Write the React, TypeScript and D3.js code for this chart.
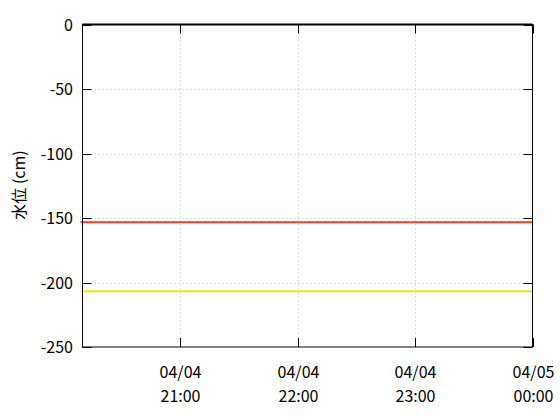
import React from "react";
import * as d3 from "d3";

const yTicks = [0, -50, -100, -150, -200, -250];
const xTickTimes = ["2024-04-04T21:00", "2024-04-04T22:00", "2024-04-04T23:00", "2024-04-05T00:00"];
const xDomain = ["2024-04-04T20:10", "2024-04-05T00:00"];
const redTimes = ["2024-04-04T20:09", "2024-04-05T00:00"];
const redValues = [-153.2, -153.2];
const yellowTimes = ["2024-04-04T20:09", "2024-04-05T00:00"];
const yellowValues = [-206.7, -206.7];

const W = 560, H = 420;
const M = { left: 82.5, right: 532.5, top: 24.5, bottom: 347 };
const FONT = "'Noto Sans CJK JP', 'Noto Sans', sans-serif";
const FS = 16;

export default function App() {
  const parse = (s: string) => new Date(s);
  const x = d3.scaleTime().domain(xDomain.map(parse)).range([M.left, M.right]);
  const y = d3.scaleLinear().domain([-250, 0]).range([M.bottom, M.top]);
  const fmtD = d3.timeFormat("%m/%d");
  const fmtT = d3.timeFormat("%H:%M");
  const line = d3.line<[Date, number]>().x(d => x(d[0])).y(d => y(d[1]));
  const red = redTimes.map((t, i) => [parse(t), redValues[i]] as [Date, number]);
  const yel = yellowTimes.map((t, i) => [parse(t), yellowValues[i]] as [Date, number]);
  const tl = 9;
  return (
    <svg width={W} height={H} style={{ position: "absolute", left: 0, top: 0 }} fontFamily={FONT}>
      <rect width={W} height={H} fill="#fff" />
      {/* grid */}
      {yTicks.filter(v => v !== 0 && v !== -250).map(v => (
        <line key={"gy" + v} x1={M.left} x2={M.right} y1={Math.round(y(v)) + 0.5} y2={Math.round(y(v)) + 0.5}
          stroke="#bbb" strokeWidth={1} strokeDasharray="1,3" />
      ))}
      {xTickTimes.slice(0, 3).map(t => {
        const xx = Math.round(x(parse(t))) + 0.5;
        return <line key={"gx" + t} x1={xx} x2={xx} y1={M.top} y2={M.bottom} stroke="#bbb" strokeWidth={1} strokeDasharray="1,3" />;
      })}
      {/* ticks */}
      {yTicks.map(v => {
        const yy = Math.round(y(v)) + 0.5;
        return (
          <g key={"ty" + v}>
            <line x1={M.left} x2={M.left + tl} y1={yy} y2={yy} stroke="#000" />
            <line x1={M.right - tl} x2={M.right} y1={yy} y2={yy} stroke="#000" />
            <text x={73} y={yy} dy="0.35em" textAnchor="end" fontSize={FS} fill="#000">{v}</text>
          </g>
        );
      })}
      {xTickTimes.map(t => {
        const d = parse(t);
        const xx = Math.round(x(d)) + 0.5;
        return (
          <g key={"tx" + t}>
            <line x1={xx} x2={xx} y1={M.bottom} y2={M.bottom - tl} stroke="#000" />
            <line x1={xx} x2={xx} y1={M.top} y2={M.top + tl} stroke="#000" />
            <text x={xx} y={378} textAnchor="middle" fontSize={FS} fill="#000">{fmtD(d)}</text>
            <text x={xx} y={402} textAnchor="middle" fontSize={FS} fill="#000">{fmtT(d)}</text>
          </g>
        );
      })}
      {/* data lines */}
      <path d={line(red) || ""} fill="none" stroke="#ff3a1a" strokeWidth={2} />
      <path d={line(yel) || ""} fill="none" stroke="#f2e600" strokeWidth={2} />
      {/* frame */}
      <rect x={M.left} y={M.top} width={M.right - M.left} height={M.bottom - M.top} fill="none" stroke="#000" strokeWidth={1} />
      <line x1={M.left} x2={M.right} y1={M.top} y2={M.top} stroke="#000" strokeWidth={2} />
      <text transform={`translate(19,185) rotate(-90)`} dy="0.35em" textAnchor="middle" fontSize={FS} fill="#000">水位 (cm)</text>
    </svg>
  );
}
